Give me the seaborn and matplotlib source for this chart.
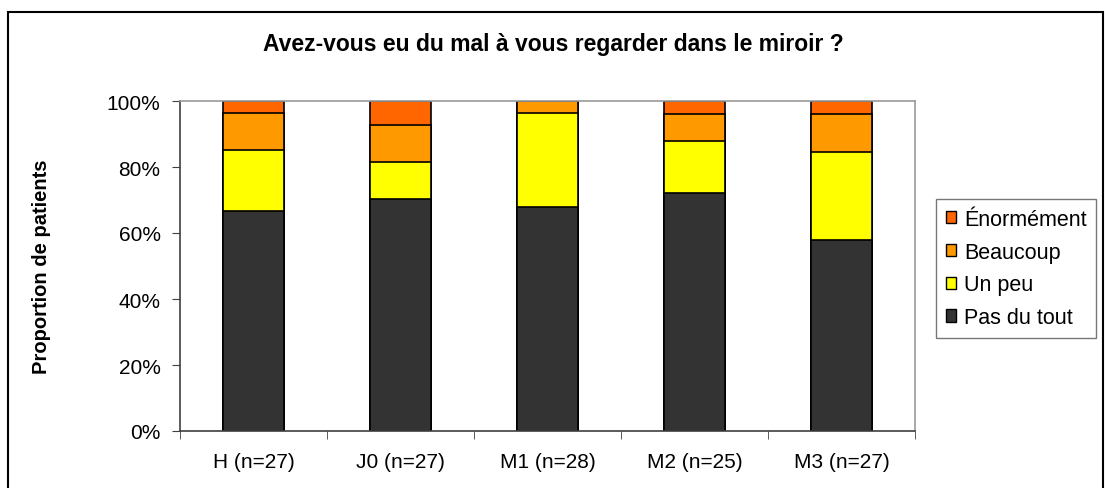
import numpy as np
import pandas as pd
import seaborn as sns
import matplotlib.pyplot as plt
from matplotlib.patches import Patch, Rectangle
from matplotlib.ticker import PercentFormatter, FixedLocator

# Données (en %)
categories = ['H (n=27)', 'J0 (n=27)', 'M1 (n=28)', 'M2 (n=25)', 'M3 (n=27)']
pas_du_tout = [66.7, 70.4, 67.9, 72.0, 58.0]
un_peu = [18.5, 11.1, 28.6, 16.0, 26.5]
beaucoup = [11.1, 11.1, 3.6, 8.0, 11.7]
enormement = [3.7, 7.4, 0.0, 4.0, 3.8]

series = ['Pas du tout', 'Un peu', 'Beaucoup', 'Énormément']
couleurs = ['#333333', '#FFFF00', '#FF9900', '#FF6600']

df = pd.DataFrame({'cat': categories, 'Pas du tout': pas_du_tout, 'Un peu': un_peu,
                   'Beaucoup': beaucoup, 'Énormément': enormement})

sns.set_style('white')
plt.rcParams['font.family'] = ['Liberation Sans', 'DejaVu Sans']
plt.rcParams['text.color'] = 'black'
plt.rcParams['axes.labelcolor'] = 'black'
plt.rcParams['xtick.color'] = 'black'
plt.rcParams['ytick.color'] = 'black'

fig = plt.figure(figsize=(11.05, 4.89), dpi=100)
ax = fig.add_axes([180 / 1105, 57 / 489, 735 / 1105, 330 / 489])

# barres empilées : on trace les cumuls du plus haut au plus bas
cumul = df[series].cumsum(axis=1)
for s, c in reversed(list(zip(series, couleurs))):
    sns.barplot(x=df['cat'], y=cumul[s], color=c, width=0.41, edgecolor='black',
                linewidth=1.2, saturation=1, ax=ax)

ax.set_xlim(-0.5, 4.5)
ax.set_ylim(0, 100)
ax.yaxis.set_major_formatter(PercentFormatter(decimals=0))
ax.set_yticks([0, 20, 40, 60, 80, 100])
ax.xaxis.set_minor_locator(FixedLocator(np.arange(-0.5, 5, 1)))
ax.tick_params(axis='x', which='major', length=0, pad=15, labelsize=15)
ax.tick_params(axis='x', which='minor', length=6, color='#404040', direction='out', bottom=True)
ax.tick_params(axis='y', length=6, color='#404040', direction='out', left=True, labelsize=15, pad=8)
ax.set_xlabel('')
ax.set_ylabel('Proportion de patients', fontsize=14.5, fontweight='bold', labelpad=40)

for side in ['left', 'bottom']:
    ax.spines[side].set_color('#404040')
    ax.spines[side].set_linewidth(1.2)
for side in ['top', 'right']:
    ax.spines[side].set_color('#999999')
    ax.spines[side].set_linewidth(1.2)

fig.text(553 / 1105, 1 - 45 / 489, 'Avez-vous eu du mal à vous regarder dans le miroir ?',
         ha='center', va='center', fontsize=16.5, fontweight='bold')

handles = [Patch(facecolor=c, edgecolor='black', label=s)
           for s, c in reversed(list(zip(series, couleurs)))]
leg = fig.legend(handles=handles, loc='upper left', bbox_to_anchor=(936 / 1105, 1 - 200 / 489),
                 fontsize=15.5, frameon=True, fancybox=False, handlelength=0.5, handleheight=0.5,
                 handletextpad=0.35, labelspacing=0.55, borderpad=0.45, borderaxespad=0)
leg.get_frame().set_edgecolor('#555555')
leg.get_frame().set_linewidth(1)

# cadre extérieur du graphique
fig.patches.append(Rectangle((8 / 1105, -0.05), 1095 / 1105, 1 - 13 / 489 + 0.05,
                             transform=fig.transFigure, fill=False, edgecolor='black', linewidth=1.5))

plt.savefig('out.png', dpi=100)
